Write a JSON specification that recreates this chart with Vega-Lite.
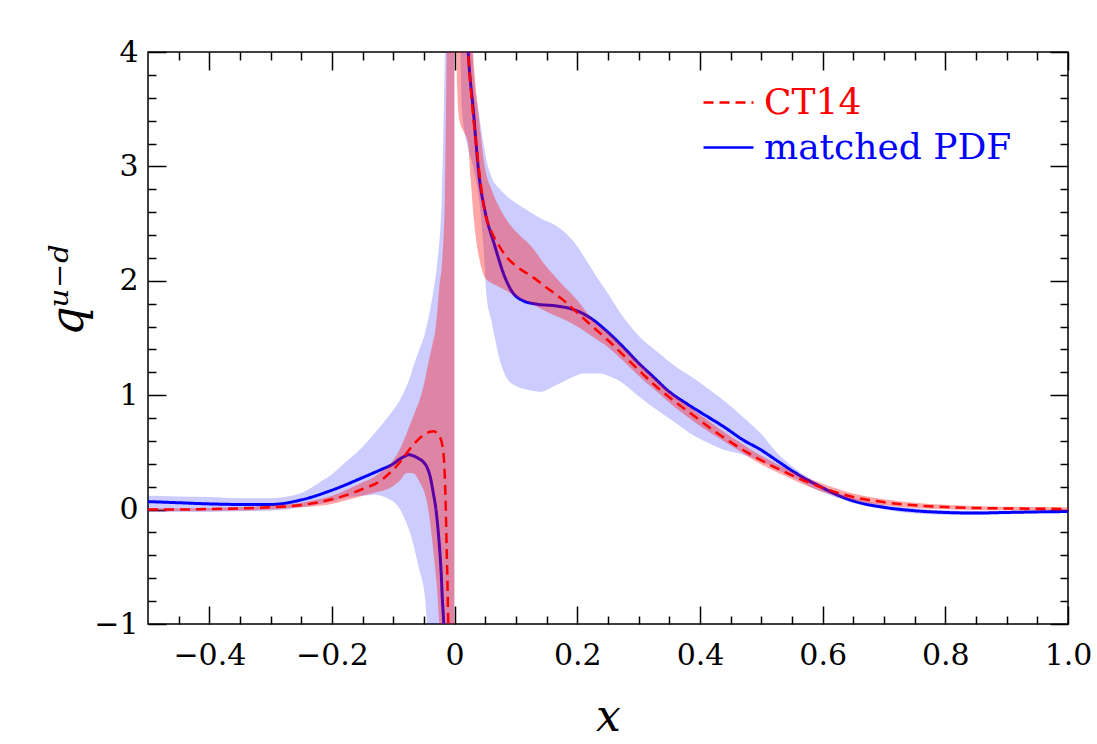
{
  "$schema": "https://vega.github.io/schema/vega-lite/v6.json",
  "autosize": {"type": "none"},
  "width": 920,
  "height": 572,
  "padding": {"left": 148, "top": 52, "right": 29, "bottom": 120},
  "background": "white",
  "config": {
    "view": {"stroke": "black", "strokeWidth": 1.5},
    "axis": {"grid": false, "domain": false, "tickColor": "black", "tickWidth": 1.5, "labelColor": "black", "labelFont": "DejaVu Serif", "labelFontSize": 30, "titleFont": "DejaVu Serif", "titleColor": "black", "labelFlush": false, "labelOverlap": false}
  },
  "datasets": {
    "m_band": [
      {"x": -0.5, "seg": "L", "lo": -0.02, "hi": 0.12},
      {"x": -0.45, "seg": "L", "lo": -0.02, "hi": 0.115},
      {"x": -0.4, "seg": "L", "lo": -0.02, "hi": 0.11},
      {"x": -0.35, "seg": "L", "lo": -0.015, "hi": 0.10},
      {"x": -0.3, "seg": "L", "lo": -0.01, "hi": 0.10},
      {"x": -0.25, "seg": "L", "lo": 0.02, "hi": 0.145},
      {"x": -0.22, "seg": "L", "lo": 0.05, "hi": 0.24},
      {"x": -0.2, "seg": "L", "lo": 0.07, "hi": 0.31},
      {"x": -0.187, "seg": "L", "lo": 0.09, "hi": 0.37},
      {"x": -0.17, "seg": "L", "lo": 0.11, "hi": 0.45},
      {"x": -0.15, "seg": "L", "lo": 0.12, "hi": 0.55},
      {"x": -0.13, "seg": "L", "lo": 0.13, "hi": 0.67},
      {"x": -0.11, "seg": "L", "lo": 0.10, "hi": 0.80},
      {"x": -0.1, "seg": "L", "lo": 0.07, "hi": 0.87},
      {"x": -0.089, "seg": "L", "lo": 0.0, "hi": 0.96},
      {"x": -0.08, "seg": "L", "lo": -0.1, "hi": 1.06},
      {"x": -0.073, "seg": "L", "lo": -0.2, "hi": 1.15},
      {"x": -0.0675, "seg": "L", "lo": -0.3, "hi": 1.25},
      {"x": -0.059, "seg": "L", "lo": -0.5, "hi": 1.38},
      {"x": -0.048, "seg": "L", "lo": -0.79, "hi": 1.55},
      {"x": -0.045, "seg": "L", "lo": -1.0, "hi": 1.62},
      {"x": -0.04, "seg": "L", "lo": -1.4, "hi": 1.75},
      {"x": -0.035, "seg": "L", "lo": -2.0, "hi": 1.9},
      {"x": -0.029, "seg": "L", "lo": -3.0, "hi": 2.13},
      {"x": -0.021, "seg": "L", "lo": -5.0, "hi": 2.72},
      {"x": -0.016, "seg": "L", "lo": -8.0, "hi": 4.0},
      {"x": -0.012, "seg": "L", "lo": -10.0, "hi": 5.5},
      {"x": -0.0005, "seg": "L", "lo": -12.0, "hi": 12.0},
      {"x": 0.004, "seg": "R", "lo": 6.0, "hi": 14.0},
      {"x": 0.008, "seg": "R", "lo": 4.5, "hi": 12.0},
      {"x": 0.012, "seg": "R", "lo": 3.5, "hi": 9.0},
      {"x": 0.02, "seg": "R", "lo": 3.2, "hi": 6.0},
      {"x": 0.03, "seg": "R", "lo": 3.0, "hi": 3.9},
      {"x": 0.04, "seg": "R", "lo": 2.7, "hi": 3.45},
      {"x": 0.047, "seg": "R", "lo": 2.3, "hi": 3.2},
      {"x": 0.052, "seg": "R", "lo": 1.87, "hi": 3.05},
      {"x": 0.06, "seg": "R", "lo": 1.65, "hi": 2.91},
      {"x": 0.074, "seg": "R", "lo": 1.30, "hi": 2.8},
      {"x": 0.085, "seg": "R", "lo": 1.15, "hi": 2.74},
      {"x": 0.1, "seg": "R", "lo": 1.08, "hi": 2.68},
      {"x": 0.117, "seg": "R", "lo": 1.05, "hi": 2.62},
      {"x": 0.139, "seg": "R", "lo": 1.03, "hi": 2.55},
      {"x": 0.166, "seg": "R", "lo": 1.09, "hi": 2.48},
      {"x": 0.193, "seg": "R", "lo": 1.16, "hi": 2.35},
      {"x": 0.21, "seg": "R", "lo": 1.19, "hi": 2.22},
      {"x": 0.237, "seg": "R", "lo": 1.19, "hi": 1.99},
      {"x": 0.25, "seg": "R", "lo": 1.17, "hi": 1.89},
      {"x": 0.27, "seg": "R", "lo": 1.12, "hi": 1.72},
      {"x": 0.3, "seg": "R", "lo": 0.99, "hi": 1.52},
      {"x": 0.335, "seg": "R", "lo": 0.85, "hi": 1.36},
      {"x": 0.36, "seg": "R", "lo": 0.76, "hi": 1.25},
      {"x": 0.389, "seg": "R", "lo": 0.65, "hi": 1.15},
      {"x": 0.41, "seg": "R", "lo": 0.59, "hi": 1.07},
      {"x": 0.44, "seg": "R", "lo": 0.52, "hi": 0.95},
      {"x": 0.47, "seg": "R", "lo": 0.48, "hi": 0.81},
      {"x": 0.5, "seg": "R", "lo": 0.42, "hi": 0.66},
      {"x": 0.525, "seg": "R", "lo": 0.35, "hi": 0.50},
      {"x": 0.55, "seg": "R", "lo": 0.29, "hi": 0.38},
      {"x": 0.58, "seg": "R", "lo": 0.20, "hi": 0.27},
      {"x": 0.62, "seg": "R", "lo": 0.11, "hi": 0.16},
      {"x": 0.66, "seg": "R", "lo": 0.045, "hi": 0.09},
      {"x": 0.7, "seg": "R", "lo": 0.0, "hi": 0.045},
      {"x": 0.75, "seg": "R", "lo": -0.035, "hi": 0.012},
      {"x": 0.8, "seg": "R", "lo": -0.045, "hi": -0.005},
      {"x": 0.85, "seg": "R", "lo": -0.045, "hi": -0.01},
      {"x": 0.9, "seg": "R", "lo": -0.04, "hi": -0.01},
      {"x": 0.95, "seg": "R", "lo": -0.035, "hi": -0.005},
      {"x": 1.0, "seg": "R", "lo": -0.03, "hi": -0.005}
    ],
    "m_line": [
      {"x": -0.5, "seg": "L", "y": 0.07, "series": "matched PDF"},
      {"x": -0.45, "seg": "L", "y": 0.06, "series": "matched PDF"},
      {"x": -0.4, "seg": "L", "y": 0.05, "series": "matched PDF"},
      {"x": -0.35, "seg": "L", "y": 0.045, "series": "matched PDF"},
      {"x": -0.3, "seg": "L", "y": 0.045, "series": "matched PDF"},
      {"x": -0.25, "seg": "L", "y": 0.085, "series": "matched PDF"},
      {"x": -0.2, "seg": "L", "y": 0.17, "series": "matched PDF"},
      {"x": -0.15, "seg": "L", "y": 0.28, "series": "matched PDF"},
      {"x": -0.12, "seg": "L", "y": 0.35, "series": "matched PDF"},
      {"x": -0.1, "seg": "L", "y": 0.40, "series": "matched PDF"},
      {"x": -0.09, "seg": "L", "y": 0.44, "series": "matched PDF"},
      {"x": -0.08, "seg": "L", "y": 0.47, "series": "matched PDF"},
      {"x": -0.075, "seg": "L", "y": 0.48, "series": "matched PDF"},
      {"x": -0.07, "seg": "L", "y": 0.475, "series": "matched PDF"},
      {"x": -0.06, "seg": "L", "y": 0.45, "series": "matched PDF"},
      {"x": -0.05, "seg": "L", "y": 0.41, "series": "matched PDF"},
      {"x": -0.045, "seg": "L", "y": 0.37, "series": "matched PDF"},
      {"x": -0.04, "seg": "L", "y": 0.29, "series": "matched PDF"},
      {"x": -0.035, "seg": "L", "y": 0.15, "series": "matched PDF"},
      {"x": -0.03, "seg": "L", "y": -0.02, "series": "matched PDF"},
      {"x": -0.027, "seg": "L", "y": -0.18, "series": "matched PDF"},
      {"x": -0.024, "seg": "L", "y": -0.38, "series": "matched PDF"},
      {"x": -0.022, "seg": "L", "y": -0.55, "series": "matched PDF"},
      {"x": -0.02, "seg": "L", "y": -0.79, "series": "matched PDF"},
      {"x": -0.018, "seg": "L", "y": -0.98, "series": "matched PDF"},
      {"x": -0.016, "seg": "L", "y": -1.3, "series": "matched PDF"},
      {"x": 0.015, "seg": "R", "y": 5.2, "series": "matched PDF"},
      {"x": 0.018, "seg": "R", "y": 4.5, "series": "matched PDF"},
      {"x": 0.0222, "seg": "R", "y": 4.0, "series": "matched PDF"},
      {"x": 0.0304, "seg": "R", "y": 3.49, "series": "matched PDF"},
      {"x": 0.04, "seg": "R", "y": 2.91, "series": "matched PDF"},
      {"x": 0.0494, "seg": "R", "y": 2.61, "series": "matched PDF"},
      {"x": 0.0646, "seg": "R", "y": 2.32, "series": "matched PDF"},
      {"x": 0.082, "seg": "R", "y": 2.03, "series": "matched PDF"},
      {"x": 0.093, "seg": "R", "y": 1.91, "series": "matched PDF"},
      {"x": 0.112, "seg": "R", "y": 1.825, "series": "matched PDF"},
      {"x": 0.134, "seg": "R", "y": 1.796, "series": "matched PDF"},
      {"x": 0.166, "seg": "R", "y": 1.78, "series": "matched PDF"},
      {"x": 0.193, "seg": "R", "y": 1.75, "series": "matched PDF"},
      {"x": 0.22, "seg": "R", "y": 1.68, "series": "matched PDF"},
      {"x": 0.248, "seg": "R", "y": 1.56, "series": "matched PDF"},
      {"x": 0.275, "seg": "R", "y": 1.42, "series": "matched PDF"},
      {"x": 0.302, "seg": "R", "y": 1.27, "series": "matched PDF"},
      {"x": 0.32, "seg": "R", "y": 1.18, "series": "matched PDF"},
      {"x": 0.35, "seg": "R", "y": 1.03, "series": "matched PDF"},
      {"x": 0.38, "seg": "R", "y": 0.92, "series": "matched PDF"},
      {"x": 0.41, "seg": "R", "y": 0.82, "series": "matched PDF"},
      {"x": 0.44, "seg": "R", "y": 0.72, "series": "matched PDF"},
      {"x": 0.47, "seg": "R", "y": 0.61, "series": "matched PDF"},
      {"x": 0.5, "seg": "R", "y": 0.52, "series": "matched PDF"},
      {"x": 0.525, "seg": "R", "y": 0.43, "series": "matched PDF"},
      {"x": 0.55, "seg": "R", "y": 0.34, "series": "matched PDF"},
      {"x": 0.575, "seg": "R", "y": 0.26, "series": "matched PDF"},
      {"x": 0.6, "seg": "R", "y": 0.19, "series": "matched PDF"},
      {"x": 0.625, "seg": "R", "y": 0.125, "series": "matched PDF"},
      {"x": 0.65, "seg": "R", "y": 0.075, "series": "matched PDF"},
      {"x": 0.7, "seg": "R", "y": 0.02, "series": "matched PDF"},
      {"x": 0.75, "seg": "R", "y": -0.01, "series": "matched PDF"},
      {"x": 0.8, "seg": "R", "y": -0.025, "series": "matched PDF"},
      {"x": 0.85, "seg": "R", "y": -0.03, "series": "matched PDF"},
      {"x": 0.9, "seg": "R", "y": -0.025, "series": "matched PDF"},
      {"x": 0.95, "seg": "R", "y": -0.02, "series": "matched PDF"},
      {"x": 1.0, "seg": "R", "y": -0.017, "series": "matched PDF"}
    ],
    "c_band": [
      {"x": -0.5, "seg": "L", "lo": -0.015, "hi": 0.012},
      {"x": -0.45, "seg": "L", "lo": -0.012, "hi": 0.012},
      {"x": -0.4, "seg": "L", "lo": -0.01, "hi": 0.015},
      {"x": -0.35, "seg": "L", "lo": -0.008, "hi": 0.022},
      {"x": -0.3, "seg": "L", "lo": 0.0, "hi": 0.035},
      {"x": -0.25, "seg": "L", "lo": 0.02, "hi": 0.06},
      {"x": -0.2, "seg": "L", "lo": 0.05, "hi": 0.12},
      {"x": -0.15, "seg": "L", "lo": 0.12, "hi": 0.24},
      {"x": -0.13, "seg": "L", "lo": 0.15, "hi": 0.29},
      {"x": -0.12, "seg": "L", "lo": 0.16, "hi": 0.33},
      {"x": -0.105, "seg": "L", "lo": 0.19, "hi": 0.40},
      {"x": -0.09, "seg": "L", "lo": 0.25, "hi": 0.52},
      {"x": -0.078, "seg": "L", "lo": 0.32, "hi": 0.67},
      {"x": -0.07, "seg": "L", "lo": 0.32, "hi": 0.78},
      {"x": -0.062, "seg": "L", "lo": 0.29, "hi": 0.89},
      {"x": -0.057, "seg": "L", "lo": 0.24, "hi": 0.96},
      {"x": -0.05, "seg": "L", "lo": 0.16, "hi": 1.1},
      {"x": -0.043, "seg": "L", "lo": 0.0, "hi": 1.28},
      {"x": -0.036, "seg": "L", "lo": -0.3, "hi": 1.45},
      {"x": -0.032, "seg": "L", "lo": -0.5, "hi": 1.55},
      {"x": -0.028, "seg": "L", "lo": -0.75, "hi": 1.75},
      {"x": -0.025, "seg": "L", "lo": -1.0, "hi": 1.95},
      {"x": -0.021, "seg": "L", "lo": -1.3, "hi": 2.13},
      {"x": -0.016, "seg": "L", "lo": -2.0, "hi": 2.72},
      {"x": -0.013, "seg": "L", "lo": -3.0, "hi": 4.0},
      {"x": -0.011, "seg": "L", "lo": -4.0, "hi": 5.0},
      {"x": -0.005, "seg": "L", "lo": -6.0, "hi": 8.0},
      {"x": -0.0005, "seg": "L", "lo": -10.0, "hi": 12.0},
      {"x": 0.002, "seg": "R", "lo": 4.5, "hi": 12.0},
      {"x": 0.004, "seg": "R", "lo": 3.7, "hi": 11.0},
      {"x": 0.008, "seg": "R", "lo": 3.4, "hi": 9.0},
      {"x": 0.015, "seg": "R", "lo": 3.3, "hi": 6.5},
      {"x": 0.022, "seg": "R", "lo": 3.2, "hi": 5.0},
      {"x": 0.026, "seg": "R", "lo": 2.9, "hi": 4.4},
      {"x": 0.03, "seg": "R", "lo": 2.61, "hi": 4.0},
      {"x": 0.036, "seg": "R", "lo": 2.32, "hi": 3.6},
      {"x": 0.04, "seg": "R", "lo": 2.2, "hi": 3.4},
      {"x": 0.049, "seg": "R", "lo": 2.03, "hi": 3.0},
      {"x": 0.06, "seg": "R", "lo": 1.98, "hi": 2.8},
      {"x": 0.071, "seg": "R", "lo": 1.95, "hi": 2.66},
      {"x": 0.085, "seg": "R", "lo": 1.91, "hi": 2.53},
      {"x": 0.1, "seg": "R", "lo": 1.86, "hi": 2.43},
      {"x": 0.125, "seg": "R", "lo": 1.80, "hi": 2.30},
      {"x": 0.15, "seg": "R", "lo": 1.73, "hi": 2.12},
      {"x": 0.175, "seg": "R", "lo": 1.67, "hi": 1.97},
      {"x": 0.2, "seg": "R", "lo": 1.60, "hi": 1.83},
      {"x": 0.225, "seg": "R", "lo": 1.51, "hi": 1.66},
      {"x": 0.25, "seg": "R", "lo": 1.42, "hi": 1.55},
      {"x": 0.275, "seg": "R", "lo": 1.30, "hi": 1.42},
      {"x": 0.3, "seg": "R", "lo": 1.17, "hi": 1.29},
      {"x": 0.33, "seg": "R", "lo": 1.03, "hi": 1.13},
      {"x": 0.36, "seg": "R", "lo": 0.89, "hi": 0.99},
      {"x": 0.39, "seg": "R", "lo": 0.77, "hi": 0.87},
      {"x": 0.42, "seg": "R", "lo": 0.66, "hi": 0.75},
      {"x": 0.45, "seg": "R", "lo": 0.56, "hi": 0.64},
      {"x": 0.5, "seg": "R", "lo": 0.395, "hi": 0.47},
      {"x": 0.55, "seg": "R", "lo": 0.265, "hi": 0.335},
      {"x": 0.6, "seg": "R", "lo": 0.155, "hi": 0.225},
      {"x": 0.65, "seg": "R", "lo": 0.08, "hi": 0.14},
      {"x": 0.7, "seg": "R", "lo": 0.04, "hi": 0.09},
      {"x": 0.75, "seg": "R", "lo": 0.015, "hi": 0.06},
      {"x": 0.8, "seg": "R", "lo": 0.003, "hi": 0.042},
      {"x": 0.85, "seg": "R", "lo": -0.003, "hi": 0.032},
      {"x": 0.9, "seg": "R", "lo": -0.006, "hi": 0.026},
      {"x": 0.95, "seg": "R", "lo": -0.008, "hi": 0.022},
      {"x": 1.0, "seg": "R", "lo": -0.008, "hi": 0.02}
    ],
    "c_line": [
      {"x": -0.5, "seg": "L", "y": 0.0, "series": "CT14"},
      {"x": -0.45, "seg": "L", "y": 0.0, "series": "CT14"},
      {"x": -0.4, "seg": "L", "y": 0.005, "series": "CT14"},
      {"x": -0.35, "seg": "L", "y": 0.01, "series": "CT14"},
      {"x": -0.3, "seg": "L", "y": 0.02, "series": "CT14"},
      {"x": -0.25, "seg": "L", "y": 0.04, "series": "CT14"},
      {"x": -0.2, "seg": "L", "y": 0.09, "series": "CT14"},
      {"x": -0.15, "seg": "L", "y": 0.18, "series": "CT14"},
      {"x": -0.12, "seg": "L", "y": 0.255, "series": "CT14"},
      {"x": -0.11, "seg": "L", "y": 0.30, "series": "CT14"},
      {"x": -0.1, "seg": "L", "y": 0.35, "series": "CT14"},
      {"x": -0.09, "seg": "L", "y": 0.41, "series": "CT14"},
      {"x": -0.08, "seg": "L", "y": 0.48, "series": "CT14"},
      {"x": -0.07, "seg": "L", "y": 0.55, "series": "CT14"},
      {"x": -0.06, "seg": "L", "y": 0.61, "series": "CT14"},
      {"x": -0.05, "seg": "L", "y": 0.655, "series": "CT14"},
      {"x": -0.04, "seg": "L", "y": 0.68, "series": "CT14"},
      {"x": -0.035, "seg": "L", "y": 0.685, "series": "CT14"},
      {"x": -0.03, "seg": "L", "y": 0.675, "series": "CT14"},
      {"x": -0.025, "seg": "L", "y": 0.645, "series": "CT14"},
      {"x": -0.02, "seg": "L", "y": 0.56, "series": "CT14"},
      {"x": -0.0175, "seg": "L", "y": 0.44, "series": "CT14"},
      {"x": -0.015, "seg": "L", "y": 0.12, "series": "CT14"},
      {"x": -0.013, "seg": "L", "y": -0.35, "series": "CT14"},
      {"x": -0.0115, "seg": "L", "y": -0.7, "series": "CT14"},
      {"x": -0.0104, "seg": "L", "y": -1.0, "series": "CT14"},
      {"x": -0.009, "seg": "L", "y": -1.4, "series": "CT14"},
      {"x": 0.015, "seg": "R", "y": 5.5, "series": "CT14"},
      {"x": 0.018, "seg": "R", "y": 4.6, "series": "CT14"},
      {"x": 0.022, "seg": "R", "y": 4.0, "series": "CT14"},
      {"x": 0.026, "seg": "R", "y": 3.7, "series": "CT14"},
      {"x": 0.03, "seg": "R", "y": 3.45, "series": "CT14"},
      {"x": 0.036, "seg": "R", "y": 3.15, "series": "CT14"},
      {"x": 0.041, "seg": "R", "y": 2.91, "series": "CT14"},
      {"x": 0.049, "seg": "R", "y": 2.61, "series": "CT14"},
      {"x": 0.06, "seg": "R", "y": 2.43, "series": "CT14"},
      {"x": 0.071, "seg": "R", "y": 2.32, "series": "CT14"},
      {"x": 0.085, "seg": "R", "y": 2.205, "series": "CT14"},
      {"x": 0.1, "seg": "R", "y": 2.13, "series": "CT14"},
      {"x": 0.128, "seg": "R", "y": 2.03, "series": "CT14"},
      {"x": 0.15, "seg": "R", "y": 1.94, "series": "CT14"},
      {"x": 0.175, "seg": "R", "y": 1.84, "series": "CT14"},
      {"x": 0.2, "seg": "R", "y": 1.72, "series": "CT14"},
      {"x": 0.225, "seg": "R", "y": 1.60, "series": "CT14"},
      {"x": 0.25, "seg": "R", "y": 1.48, "series": "CT14"},
      {"x": 0.275, "seg": "R", "y": 1.35, "series": "CT14"},
      {"x": 0.3, "seg": "R", "y": 1.22, "series": "CT14"},
      {"x": 0.33, "seg": "R", "y": 1.07, "series": "CT14"},
      {"x": 0.36, "seg": "R", "y": 0.94, "series": "CT14"},
      {"x": 0.39, "seg": "R", "y": 0.82, "series": "CT14"},
      {"x": 0.42, "seg": "R", "y": 0.70, "series": "CT14"},
      {"x": 0.45, "seg": "R", "y": 0.59, "series": "CT14"},
      {"x": 0.5, "seg": "R", "y": 0.43, "series": "CT14"},
      {"x": 0.55, "seg": "R", "y": 0.30, "series": "CT14"},
      {"x": 0.6, "seg": "R", "y": 0.19, "series": "CT14"},
      {"x": 0.65, "seg": "R", "y": 0.11, "series": "CT14"},
      {"x": 0.7, "seg": "R", "y": 0.065, "series": "CT14"},
      {"x": 0.75, "seg": "R", "y": 0.037, "series": "CT14"},
      {"x": 0.8, "seg": "R", "y": 0.022, "series": "CT14"},
      {"x": 0.85, "seg": "R", "y": 0.014, "series": "CT14"},
      {"x": 0.9, "seg": "R", "y": 0.01, "series": "CT14"},
      {"x": 0.95, "seg": "R", "y": 0.007, "series": "CT14"},
      {"x": 1.0, "seg": "R", "y": 0.006, "series": "CT14"}
    ]
  },
  "resolve": {"axis": {"x": "independent", "y": "independent"}},
  "layer": [
    {
      "data": {"name": "m_band"},
      "mark": {"type": "area", "color": "#0000ff", "opacity": 0.2, "interpolate": "monotone", "clip": true},
      "encoding": {
        "x": {"field": "x", "type": "quantitative", "scale": {"domain": [-0.5, 1.0], "nice": false, "zero": false},
          "axis": {"orient": "bottom", "values": [-0.4,-0.2,0,0.2,0.4,0.6,0.8,1.0], "offset": -18, "tickSize": 18,
            "labelExpr": "datum.value == 0 ? '0' : format(datum.value, '.1f')",
            "labelPadding": 16, "title": "x", "titleFontStyle": "italic", "titleFontWeight": "normal", "titleFontSize": 44, "titleY": 124, "titleBaseline": "alphabetic"}},
        "y": {"field": "lo", "type": "quantitative", "scale": {"domain": [-1, 4], "nice": false, "zero": false},
          "axis": {"orient": "left", "values": [-1,0,1,2,3,4], "offset": -18, "tickSize": 18, "format": "d",
            "labelPadding": 10, "title": "qᵘ⁻ᵈ", "titleFontStyle": "italic", "titleFontWeight": "normal", "titleFontSize": 46, "titleAngle": 270, "titleX": -84, "titleY": 238, "titleAlign": "center", "titleBaseline": "alphabetic"}},
        "y2": {"field": "hi"},
        "detail": {"field": "seg"}
      }
    },
    {
      "mark": {"type": "rule", "color": "black", "strokeWidth": 1},
      "encoding": {"y": {"datum": 0, "type": "quantitative", "scale": {"domain": [-1, 4], "nice": false, "zero": false}, "axis": null}}
    },
    {
      "mark": {"type": "rule", "color": "#222222", "strokeWidth": 1.5},
      "encoding": {"x": {"datum": 0, "type": "quantitative", "scale": {"domain": [-0.5, 1.0], "nice": false, "zero": false}, "axis": null}}
    },
    {
      "data": {"name": "m_line"},
      "mark": {"type": "line", "strokeWidth": 3, "interpolate": "monotone", "clip": true},
      "encoding": {
        "x": {"field": "x", "type": "quantitative", "scale": {"domain": [-0.5, 1.0], "nice": false, "zero": false},
          "axis": {"orient": "top", "values": [-0.4,-0.2,0,0.2,0.4,0.6,0.8,1.0], "offset": -18, "tickSize": 18, "labels": false, "title": null}},
        "y": {"field": "y", "type": "quantitative", "scale": {"domain": [-1, 4], "nice": false, "zero": false},
          "axis": {"orient": "right", "values": [-1,0,1,2,3,4], "offset": -18, "tickSize": 18, "labels": false, "title": null}},
        "detail": {"field": "seg"},
        "color": {"field": "series", "type": "nominal", "scale": {"domain": ["CT14", "matched PDF"], "range": ["#ff0000", "#0000ff"]},
          "legend": {"orient": "none", "legendX": 554, "legendY": 24, "title": null, "symbolType": "stroke", "symbolSize": 2500, "symbolStrokeWidth": 2.5,
            "labelFont": "DejaVu Serif", "labelFontSize": 36, "labelOffset": 9, "rowPadding": -4, "labelLimit": 500,
            "labelColor": {"expr": "datum.label == 'CT14' ? '#ff0000' : '#0000ff'"}}},
        "strokeDash": {"field": "series", "type": "nominal", "scale": {"domain": ["CT14", "matched PDF"], "range": [[10, 6], [1, 0]]},
          "legend": {"orient": "none", "legendX": 554, "legendY": 24, "title": null, "symbolType": "stroke", "symbolSize": 2500, "symbolStrokeWidth": 2.5,
            "labelFont": "DejaVu Serif", "labelFontSize": 36, "labelOffset": 9, "rowPadding": -4, "labelLimit": 500,
            "labelColor": {"expr": "datum.label == 'CT14' ? '#ff0000' : '#0000ff'"}}}
      }
    },
    {
      "data": {"name": "c_band"},
      "mark": {"type": "area", "color": "#ff0000", "opacity": 0.35, "interpolate": "monotone", "clip": true},
      "encoding": {
        "x": {"field": "x", "type": "quantitative", "scale": {"domain": [-0.5, 1.0], "nice": false, "zero": false},
          "axis": {"orient": "bottom", "values": [-0.45,-0.35,-0.3,-0.25,-0.15,-0.1,-0.05,0.05,0.1,0.15,0.25,0.3,0.35,0.45,0.5,0.55,0.65,0.7,0.75,0.85,0.9,0.95], "offset": -8, "tickSize": 8, "labels": false, "title": null}},
        "y": {"field": "lo", "type": "quantitative", "scale": {"domain": [-1, 4], "nice": false, "zero": false},
          "axis": {"orient": "left", "values": [-0.8,-0.6,-0.4,-0.2,0.2,0.4,0.6,0.8,1.2,1.4,1.6,1.8,2.2,2.4,2.6,2.8,3.2,3.4,3.6,3.8], "offset": -8, "tickSize": 8, "labels": false, "title": null}},
        "y2": {"field": "hi"},
        "detail": {"field": "seg"}
      }
    },
    {
      "data": {"name": "c_line"},
      "mark": {"type": "line", "strokeWidth": 2.5, "interpolate": "monotone", "clip": true},
      "encoding": {
        "x": {"field": "x", "type": "quantitative", "scale": {"domain": [-0.5, 1.0], "nice": false, "zero": false},
          "axis": {"orient": "top", "values": [-0.45,-0.35,-0.3,-0.25,-0.15,-0.1,-0.05,0.05,0.1,0.15,0.25,0.3,0.35,0.45,0.5,0.55,0.65,0.7,0.75,0.85,0.9,0.95], "offset": -8, "tickSize": 8, "labels": false, "title": null}},
        "y": {"field": "y", "type": "quantitative", "scale": {"domain": [-1, 4], "nice": false, "zero": false},
          "axis": {"orient": "right", "values": [-0.8,-0.6,-0.4,-0.2,0.2,0.4,0.6,0.8,1.2,1.4,1.6,1.8,2.2,2.4,2.6,2.8,3.2,3.4,3.6,3.8], "offset": -8, "tickSize": 8, "labels": false, "title": null}},
        "detail": {"field": "seg"},
        "color": {"field": "series", "type": "nominal", "scale": {"domain": ["CT14", "matched PDF"], "range": ["#ff0000", "#0000ff"]}},
        "strokeDash": {"field": "series", "type": "nominal", "scale": {"domain": ["CT14", "matched PDF"], "range": [[10, 6], [1, 0]]}}
      }
    }
  ]
}
